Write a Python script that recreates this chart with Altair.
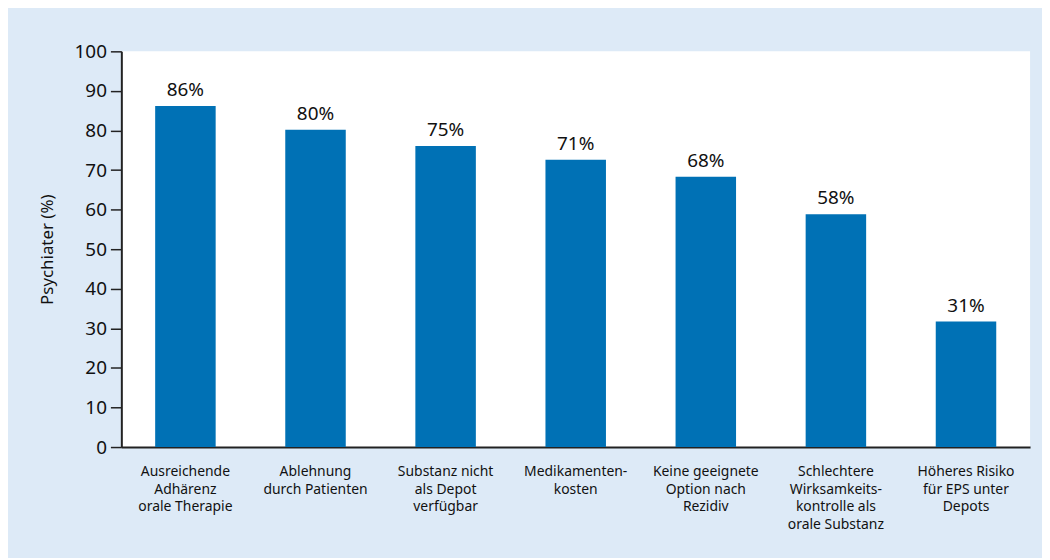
import altair as alt
import pandas as pd

categories = [
    "Ausreichende\nAdhärenz\norale Therapie",
    "Ablehnung\ndurch Patienten",
    "Substanz nicht\nals Depot\nverfügbar",
    "Medikamenten-\nkosten",
    "Keine geeignete\nOption nach\nRezidiv",
    "Schlechtere\nWirksamkeits-\nkontrolle als\norale Substanz",
    "Höheres Risiko\nfür EPS unter\nDepots",
]
values = [86.2, 80.2, 76.1, 72.6, 68.3, 58.8, 31.7]
labels = ["86%", "80%", "75%", "71%", "68%", "58%", "31%"]
y_ticks = [0, 10, 20, 30, 40, 50, 60, 70, 80, 90, 100]

df = pd.DataFrame({"cat": categories, "val": values, "lab": labels})

FONT = "Noto Sans"
BLUE = "#0071b5"
TXT = "#111111"

x = alt.X(
    "cat:N",
    sort=categories,
    scale=alt.Scale(paddingInner=0.535, paddingOuter=0.26),
    axis=alt.Axis(
        title=None,
        labelAngle=0,
        ticks=False,
        labelExpr="split(datum.label, '\\n')",
        labelFont=FONT,
        labelFontSize=14,
        labelColor=TXT,
        labelLineHeight=17.5,
        labelPadding=18,
        labelOverlap=False,
        domainColor="#222222",
        domainWidth=2,
        labelBaseline="top",
    ),
)

y = alt.Y(
    "val:Q",
    scale=alt.Scale(domain=[0, 100]),
    axis=alt.Axis(
        title="Psychiater (%)",
        values=y_ticks,
        labelOverlap=False,
        grid=False,
        tickSize=11,
        tickColor="#222222",
        tickWidth=1.5,
        domainColor="#222222",
        domainWidth=2,
        labelFont=FONT,
        labelFontSize=19,
        labelColor=TXT,
        labelPadding=4,
        titleFont=FONT,
        titleFontSize=17,
        titleFontWeight="normal",
        titleColor=TXT,
        titlePadding=18,
    ),
)

bars = alt.Chart(df).mark_bar(color=BLUE).encode(x=x, y=y)
text = alt.Chart(df).mark_text(
    font=FONT, fontSize=19, color=TXT, baseline="alphabetic", dy=-10
).encode(x=x, y=y, text="lab:N")

chart = (
    (bars + text)
    .properties(
        width=914,
        height=398,
        background="#ddeaf7",
        padding={"left": 114, "top": 42, "right": 12, "bottom": 110},
        autosize=alt.AutoSizeParams(type="none"),
    )
    .configure_view(fill="white", stroke=None)
)

chart.save("out.html", embed_options={"renderer": "svg", "actions": False})
